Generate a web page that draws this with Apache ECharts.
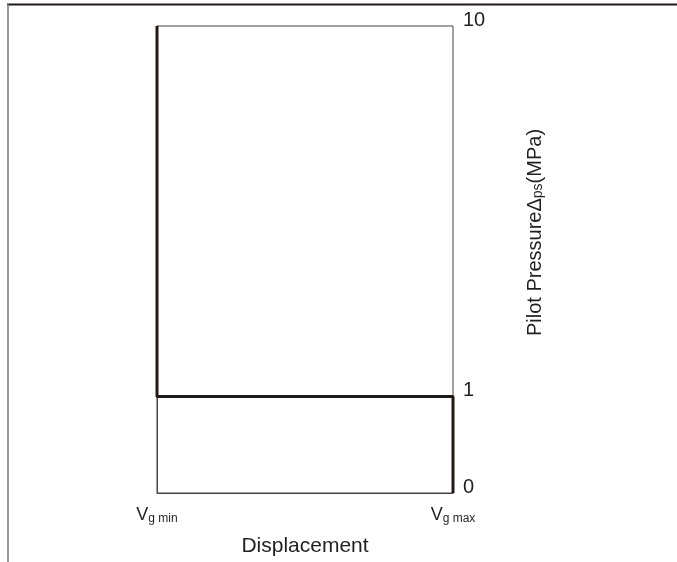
<!DOCTYPE html>
<html><head><meta charset="utf-8">
<script src="https://cdn.jsdelivr.net/npm/echarts@6/dist/echarts.min.js"></script>
<style>html,body{margin:0;padding:0;background:#fff}#c{width:677px;height:562px}</style>
</head><body><div id="c"></div>
<script>
// Data
var displacementTicks = ['min', 'max'];      // Vg min, Vg max
var xValues = [0, 0, 1, 1];                   // 0 = Vg min, 1 = Vg max
var pressureValues = [10, 1, 1, 0];           // MPa
var pressureTicks = [0, 1, 10];

// piecewise pressure scale (0-1 expanded, 1-10 compressed)
var K = 373 / (9 * 97);
function fwd(v) { return v <= 1 ? v : 1 + (v - 1) * K; }
function inv(t) { return t <= 1 ? t : 1 + (t - 1) / K; }

var chart = echarts.init(document.getElementById('c'));
var txt = '#231f20';
var ff = 'Liberation Sans, Arial';
chart.setOption({
  animation: false,
  grid: { left: 157, right: 224, top: 26, bottom: 66, show: true, borderColor: '#444', borderWidth: 1 },
  xAxis: {
    type: 'value', min: 0, max: 1,
    axisLine: { show: true, lineStyle: { color: '#444', width: 1 } },
    axisTick: { show: false }, splitLine: { show: false },
    axisLabel: {
      customValues: [0, 1], margin: 13,
      formatter: function (v) { return '{v|V}{s|g ' + displacementTicks[Math.round(v)] + '}'; },
      rich: {
        v: { fontSize: 18, color: txt, fontFamily: ff },
        s: { fontSize: 12, color: txt, fontFamily: ff, padding: [7, 0, 0, 0] }
      }
    },
    name: 'Displacement', nameLocation: 'middle', nameGap: 43,
    nameTextStyle: { fontSize: 21, color: txt, fontFamily: ff }
  },
  yAxis: {
    type: 'value', position: 'right', min: 0, max: fwd(10),
    axisLine: { show: true, lineStyle: { color: '#444', width: 1 } },
    axisTick: { show: false }, splitLine: { show: false },
    axisLabel: {
      customValues: pressureTicks.map(fwd), margin: 10,
      formatter: function (v) { return String(Math.round(inv(v))); },
      fontSize: 20, color: txt, fontFamily: ff, verticalAlign: 'bottom', lineHeight: 12
    },
    name: '{a|Pilot PressureΔ}{b|ps}{a|(MPa)}', nameLocation: 'middle', nameGap: 72, nameRotate: 90,
    nameTextStyle: {
      padding: [0, 0, 0, 54],
      rich: {
        a: { fontSize: 20, color: txt, fontFamily: ff },
        b: { fontSize: 14, color: txt, fontFamily: ff, padding: [6, 0, 0, 0] }
      }
    }
  },
  series: [{
    type: 'line', symbol: 'none',
    data: xValues.map(function (x, i) { return [x, fwd(pressureValues[i])]; }),
    lineStyle: { color: '#231815', width: 3 }
  }],
  graphic: [
    { type: 'line', shape: { x1: 7, y1: 4.5, x2: 677, y2: 4.5 }, style: { stroke: '#231815', lineWidth: 2 } },
    { type: 'line', shape: { x1: 8, y1: 4, x2: 8, y2: 562 }, style: { stroke: '#777', lineWidth: 1.5 } }
  ]
});
</script></body></html>
